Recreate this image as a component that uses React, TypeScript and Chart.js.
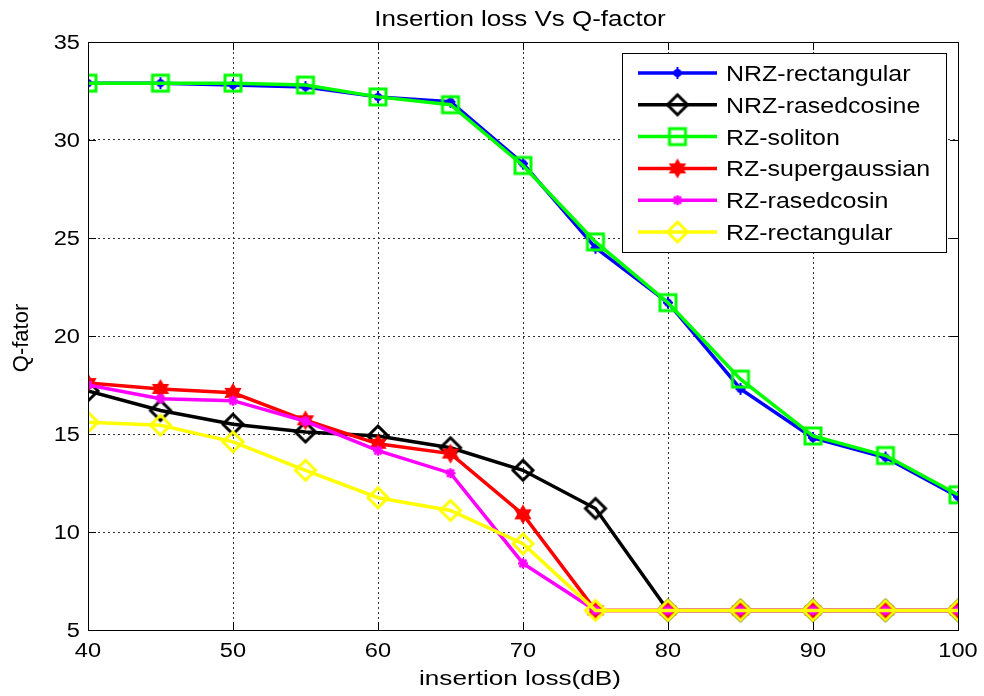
import React, { useEffect, useRef } from 'react';
import { Chart, registerables } from 'chart.js';

Chart.register(...registerables);

const chartTitle = 'Insertion loss Vs Q-factor';
const xAxisTitle = 'insertion loss(dB)';
const yAxisTitle = 'Q-fator';

const insertionLoss = [40, 45, 50, 55, 60, 65, 70, 75, 80, 85, 90, 95, 100];
const xTickValues = [40, 50, 60, 70, 80, 90, 100];
const yTickValues = [5, 10, 15, 20, 25, 30, 35];

const nrzRectangular = [32.9, 32.9, 32.8, 32.7, 32.2, 31.95, 28.8, 24.5, 21.7, 17.3, 14.8, 13.8, 11.8];
const nrzRasedcosine = [17.2, 16.2, 15.5, 15.1, 14.9, 14.3, 13.15, 11.2, 6, 6, 6, 6, 6];
const rzSoliton = [32.9, 32.9, 32.9, 32.8, 32.2, 31.8, 28.7, 24.8, 21.7, 17.8, 14.9, 13.9, 11.9];
const rzSupergaussian = [17.6, 17.3, 17.1, 15.7, 14.5, 14.0, 10.9, 6, 6, 6, 6, 6, 6];
const rzRasedcosin = [17.5, 16.8, 16.7, 15.65, 14.15, 13.0, 8.4, 6, 6, 6, 6, 6, 6];
const rzRectangular = [15.6, 15.45, 14.6, 13.15, 11.75, 11.1, 9.4, 6, 6, 6, 6, 6, 6];

const seriesLabels = ['NRZ-rectangular', 'NRZ-rasedcosine', 'RZ-soliton', 'RZ-supergaussian', 'RZ-rasedcosin', 'RZ-rectangular'];
const seriesValues = [nrzRectangular, nrzRasedcosine, rzSoliton, rzSupergaussian, rzRasedcosin, rzRectangular];
const seriesColors = ['#0000ff', '#000000', '#00ff00', '#ff0000', '#ff00ff', '#ffff00'];
const seriesMarkers = ['dotplus', 'diamond', 'square', 'hexagram', 'asterisk', 'diamond'];

function makeMarker(kind: string, color: string): HTMLCanvasElement {
  const s = 28;
  const c = document.createElement('canvas');
  c.width = s;
  c.height = s;
  const ctx = c.getContext('2d')!;
  const m = s / 2;
  ctx.strokeStyle = color;
  ctx.fillStyle = color;
  ctx.lineJoin = 'miter';
  if (kind === 'diamond') {
    const r = 10;
    ctx.lineWidth = 3;
    ctx.beginPath();
    ctx.moveTo(m, m - r);
    ctx.lineTo(m + r, m);
    ctx.lineTo(m, m + r);
    ctx.lineTo(m - r, m);
    ctx.closePath();
    ctx.stroke();
  } else if (kind === 'square') {
    const h = 8;
    ctx.lineWidth = 3;
    ctx.strokeRect(m - h, m - h, 2 * h, 2 * h);
  } else if (kind === 'hexagram') {
    const r = 10;
    for (let t = 0; t < 2; t++) {
      ctx.beginPath();
      for (let i = 0; i < 3; i++) {
        const a = -Math.PI / 2 + t * Math.PI + (i * 2 * Math.PI) / 3;
        const px = m + r * Math.cos(a);
        const py = m + r * Math.sin(a);
        if (i === 0) ctx.moveTo(px, py);
        else ctx.lineTo(px, py);
      }
      ctx.closePath();
      ctx.fill();
    }
  } else if (kind === 'asterisk') {
    const r = 5;
    ctx.lineWidth = 2.5;
    ctx.beginPath();
    for (let i = 0; i < 4; i++) {
      const a = (i * Math.PI) / 4;
      ctx.moveTo(m - r * Math.cos(a), m - r * Math.sin(a));
      ctx.lineTo(m + r * Math.cos(a), m + r * Math.sin(a));
    }
    ctx.stroke();
  } else {
    ctx.beginPath();
    ctx.arc(m, m, 4, 0, Math.PI * 2);
    ctx.fill();
    ctx.lineWidth = 2;
    ctx.beginPath();
    ctx.moveTo(m, m - 6);
    ctx.lineTo(m, m + 6);
    ctx.moveTo(m - 5, m);
    ctx.lineTo(m + 5, m);
    ctx.stroke();
  }
  return c;
}

const FONT = '"Liberation Sans", Arial, Helvetica, sans-serif';

function drawText(ctx: CanvasRenderingContext2D, text: string, x: number, y: number, size: number, align: CanvasTextAlign, sx: number) {
  ctx.save();
  ctx.translate(x, y);
  ctx.scale(sx, 1);
  ctx.font = `${size}px ${FONT}`;
  ctx.textAlign = align;
  ctx.textBaseline = 'alphabetic';
  ctx.fillStyle = '#000';
  ctx.fillText(text, 0, 0);
  ctx.restore();
}

export default function App() {
  const ref = useRef<HTMLCanvasElement | null>(null);

  useEffect(() => {
    document.body.style.margin = '0';
    const canvas = ref.current!;
    const markers = seriesMarkers.map((k, i) => makeMarker(k, seriesColors[i]));

    const frame = {
      id: 'frame',
      beforeDraw(chart: any) {
        const { ctx } = chart;
        ctx.save();
        ctx.fillStyle = '#ffffff';
        ctx.fillRect(0, 0, chart.width, chart.height);
        ctx.restore();
      },
      afterDraw(chart: any) {
        const { ctx, chartArea: a, scales } = chart;
        ctx.save();
        ctx.strokeStyle = '#000';
        ctx.lineWidth = 1;
        ctx.strokeRect(Math.round(a.left) + 0.5, Math.round(a.top) + 0.5, Math.round(a.right - a.left), Math.round(a.bottom - a.top));
        ctx.beginPath();
        const tl = 8;
        for (const v of xTickValues) {
          const px = Math.round(scales.x.getPixelForValue(v)) + 0.5;
          ctx.moveTo(px, a.bottom);
          ctx.lineTo(px, a.bottom - tl);
          ctx.moveTo(px, a.top);
          ctx.lineTo(px, a.top + tl);
        }
        for (const v of yTickValues) {
          const py = Math.round(scales.y.getPixelForValue(v)) + 0.5;
          ctx.moveTo(a.left, py);
          ctx.lineTo(a.left + tl, py);
          ctx.moveTo(a.right, py);
          ctx.lineTo(a.right - tl, py);
        }
        ctx.stroke();

        // tick labels
        for (const v of xTickValues) {
          drawText(ctx, String(v), scales.x.getPixelForValue(v), a.bottom + 27, 20, 'center', 1.18);
        }
        for (const v of yTickValues) {
          drawText(ctx, String(v), a.left - 8, scales.y.getPixelForValue(v) + 6.8, 20, 'right', 1.18);
        }

        // titles
        const cx = (a.left + a.right) / 2 - 3;
        drawText(ctx, chartTitle, cx, 26, 22, 'center', 1.18);
        drawText(ctx, xAxisTitle, cx, 685, 21, 'center', 1.245);
        ctx.save();
        ctx.translate(28, 338);
        ctx.rotate(-Math.PI / 2);
        drawText(ctx, yAxisTitle, 0, 0, 22, 'center', 1);
        ctx.restore();

        // legend
        const lx0 = a.right - 336;
        const ly0 = a.top + 11;
        const lw = 324;
        const lh = 199;
        ctx.fillStyle = '#fff';
        ctx.fillRect(lx0, ly0, lw, lh);
        ctx.strokeStyle = '#000';
        ctx.lineWidth = 1;
        ctx.strokeRect(lx0 + 0.5, ly0 + 0.5, lw, lh);
        for (let i = 0; i < seriesLabels.length; i++) {
          const y = ly0 + 20 + i * 31.8;
          ctx.strokeStyle = seriesColors[i];
          ctx.lineWidth = 3.5;
          ctx.beginPath();
          ctx.moveTo(lx0 + 16, y);
          ctx.lineTo(lx0 + 95, y);
          ctx.stroke();
          const mk = markers[i];
          ctx.drawImage(mk, lx0 + 55.5 - mk.width / 2, y - mk.height / 2);
          drawText(ctx, seriesLabels[i], lx0 + 104, y + 8, 22, 'left', 1.135);
        }
        ctx.restore();
      },
    };

    const chart = new Chart(canvas, {
      type: 'line',
      data: {
        datasets: seriesLabels.map((label, i) => ({
          label,
          data: insertionLoss.map((x, j) => ({ x, y: seriesValues[i][j] })),
          borderColor: seriesColors[i],
          backgroundColor: seriesColors[i],
          borderWidth: 3.5,
          pointStyle: markers[i] as any,
          pointRadius: 10,
          tension: 0,
          fill: false,
          order: seriesLabels.length - i,
        })),
      },
      options: {
        animation: false,
        responsive: false,
        events: [],
        layout: { padding: { top: 42, right: 26, left: 0, bottom: 0 } },
        plugins: {
          legend: { display: false },
          title: { display: false },
          tooltip: { enabled: false },
        },
        scales: {
          x: {
            type: 'linear',
            min: 40,
            max: 100,
            afterFit: (s: any) => {
              s.height = 66;
            },
            afterBuildTicks: (s: any) => {
              s.ticks = xTickValues.map((v) => ({ value: v }));
            },
            ticks: { display: false },
            grid: { color: '#333', lineWidth: 1, drawTicks: false },
            border: { display: false, dash: [2, 3] },
          },
          y: {
            type: 'linear',
            min: 5,
            max: 35,
            afterFit: (s: any) => {
              s.width = 88;
            },
            afterBuildTicks: (s: any) => {
              s.ticks = yTickValues.map((v) => ({ value: v }));
            },
            ticks: { display: false },
            grid: { color: '#333', lineWidth: 1, drawTicks: false },
            border: { display: false, dash: [2, 3] },
          },
        },
      },
      plugins: [frame],
    });
    return () => chart.destroy();
  }, []);

  return (
    <div style={{ width: 984, height: 696 }}>
      <canvas ref={ref} width={984} height={696} style={{ display: 'block', width: 984, height: 696 }} />
    </div>
  );
}
